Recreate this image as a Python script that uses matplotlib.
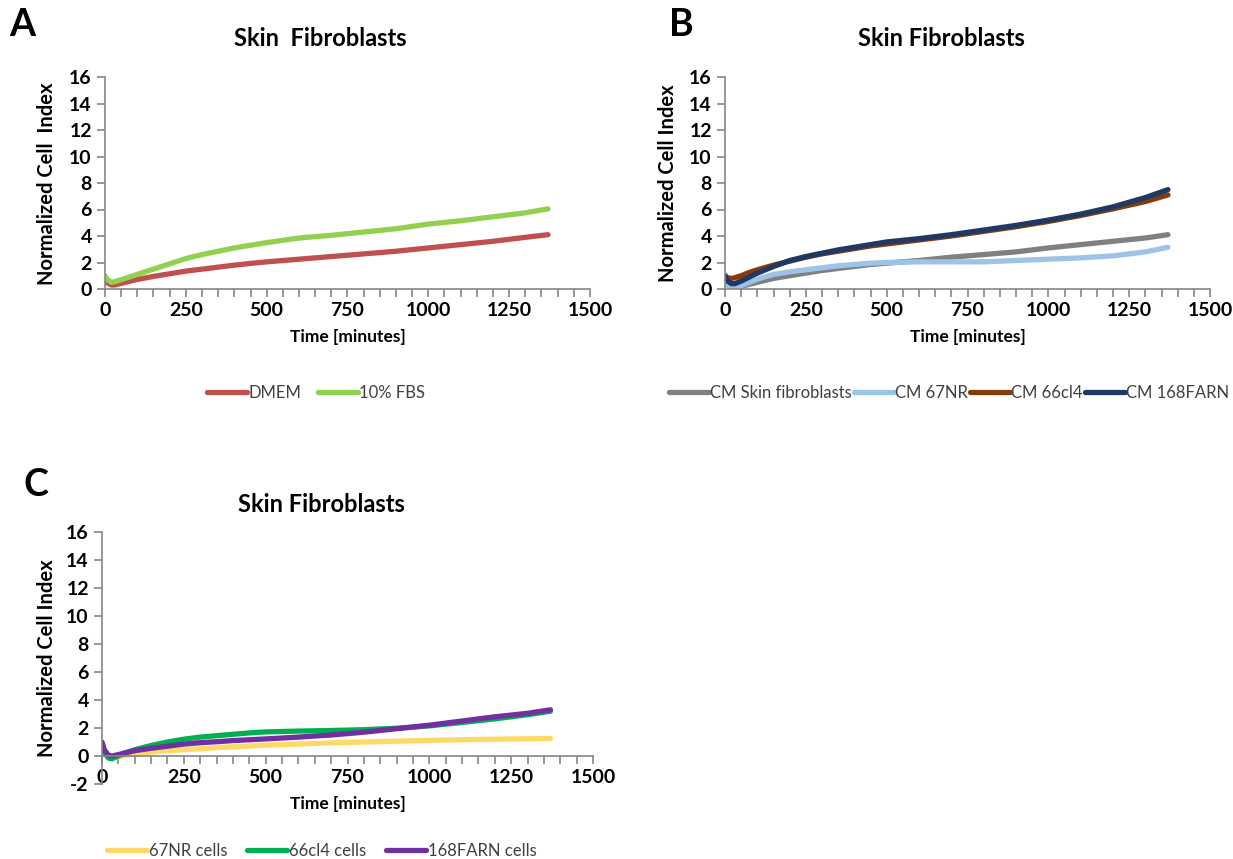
import matplotlib.pyplot as plt
from matplotlib.ticker import MultipleLocator

plt.rcParams['font.family'] = ['Lato', 'DejaVu Sans']
plt.rcParams['axes.unicode_minus'] = False

# time points (minutes), shared by all series
time_min = [0, 8, 20, 30, 50, 75, 100, 150, 200, 250, 300, 350, 400, 450,
            500, 600, 700, 800, 900, 1000, 1100, 1200, 1300, 1370]

# panel A
dmem = [0.6, 0.45, 0.3, 0.3, 0.42, 0.58, 0.72, 0.95, 1.15, 1.35, 1.5, 1.65, 1.8, 1.93,
        2.05, 2.25, 2.45, 2.65, 2.85, 3.1, 3.35, 3.6, 3.9, 4.1]
fbs = [1.0, 0.7, 0.5, 0.55, 0.7, 0.9, 1.1, 1.5, 1.9, 2.3, 2.6, 2.85, 3.1, 3.3,
       3.5, 3.85, 4.05, 4.3, 4.55, 4.9, 5.15, 5.45, 5.75, 6.05]

# panel B
cm_skin = [0.6, 0.3, 0.15, 0.1, 0.2, 0.35, 0.5, 0.8, 1.0, 1.2, 1.4, 1.55, 1.7, 1.85,
           1.95, 2.15, 2.4, 2.6, 2.8, 3.1, 3.35, 3.6, 3.85, 4.1]
cm_67nr = [0.6, 0.3, 0.15, 0.1, 0.25, 0.5, 0.75, 1.1, 1.3, 1.45, 1.6, 1.75, 1.85, 1.95,
           2.0, 2.05, 2.05, 2.05, 2.15, 2.25, 2.35, 2.5, 2.8, 3.15]
cm_66cl4 = [1.0, 0.85, 0.8, 0.85, 1.0, 1.25, 1.45, 1.8, 2.1, 2.4, 2.65, 2.85, 3.05, 3.25,
            3.4, 3.7, 4.0, 4.35, 4.7, 5.1, 5.55, 6.05, 6.6, 7.1]
cm_168farn = [1.0, 0.6, 0.4, 0.4, 0.6, 0.9, 1.2, 1.7, 2.15, 2.45, 2.7, 2.95, 3.15, 3.35,
              3.55, 3.8, 4.1, 4.45, 4.8, 5.2, 5.65, 6.2, 6.9, 7.5]

# panel C
cells_67nr = [0.8, 0.2, -0.05, -0.1, -0.05, 0.05, 0.15, 0.28, 0.38, 0.45, 0.52, 0.6, 0.66, 0.72,
              0.78, 0.86, 0.94, 1.0, 1.06, 1.12, 1.16, 1.2, 1.23, 1.25]
cells_66cl4 = [0.9, 0.2, -0.15, -0.2, 0.0, 0.25, 0.45, 0.75, 1.0, 1.2, 1.35, 1.45, 1.55, 1.65,
               1.72, 1.78, 1.82, 1.88, 1.98, 2.15, 2.4, 2.65, 2.95, 3.2]
cells_168farn = [1.0, 0.4, 0.05, 0.0, 0.1, 0.25, 0.38, 0.55, 0.7, 0.85, 0.95, 1.02, 1.1, 1.16,
                 1.22, 1.35, 1.5, 1.7, 1.95, 2.2, 2.5, 2.8, 3.05, 3.3]

W, H = 1233, 859
fig = plt.figure(figsize=(W / 100, H / 100), dpi=100)
axis_grey = '#868686'


def px(x, y):
    return x / W, 1 - y / H


def style_axes(ax, ymin):
    ax.set_xlim(0, 1500)
    ax.set_ylim(ymin, 16)
    ax.xaxis.set_major_locator(MultipleLocator(250))
    ax.xaxis.set_minor_locator(MultipleLocator(50))
    ax.yaxis.set_major_locator(MultipleLocator(2))
    for s in ['top', 'right']:
        ax.spines[s].set_visible(False)
    for s in ['left', 'bottom']:
        ax.spines[s].set_color(axis_grey)
        ax.spines[s].set_linewidth(1.2)
    ax.spines['bottom'].set_position(('data', 0))
    ax.tick_params(which='both', direction='out', color=axis_grey, width=1.2, length=6)
    ax.tick_params(labelsize=14)
    for lab in ax.get_xticklabels() + ax.get_yticklabels():
        lab.set_fontweight('bold')
    ax.set_xlabel('Time [minutes]', fontsize=12.5, fontweight='bold', labelpad=7)


def draw(ax, series):
    handles = []
    for vals, col, name in series:
        h, = ax.plot(time_min, vals, color=col, lw=3.8, solid_capstyle='round', label=name)
        handles.append(h)
    return handles


def legend(handles, x, y, ncol, spacing):
    fig.legend(handles=handles, loc='center', bbox_to_anchor=px(x, y), ncol=ncol,
               frameon=False, fontsize=12, handlelength=2.4, columnspacing=spacing,
               handletextpad=0.1, labelcolor='#404040')


# ---- A ----
axA = fig.add_axes([105 / W, 1 - 289 / H, 485 / W, 212 / H])
hA = draw(axA, [(dmem, '#C0504D', 'DMEM'), (fbs, '#92D050', '10% FBS')])
style_axes(axA, 0)
fig.text(*px(320, 38), 'Skin  Fibroblasts', ha='center', va='center', fontsize=17, fontweight='bold')
fig.text(*px(22, 25), 'A', ha='center', va='center', fontsize=27, fontweight='bold')
fig.text(*px(47, 184), 'Normalized Cell  Index', rotation=90, ha='center', va='center',
         fontsize=14.5, fontweight='bold')
legend(hA, 316, 393, 2, 1.0)

# ---- B ----
axB = fig.add_axes([725 / W, 1 - 289 / H, 485 / W, 212 / H])
hB = draw(axB, [(cm_skin, '#808080', 'CM Skin fibroblasts'), (cm_67nr, '#9DC3E6', 'CM 67NR'),
                (cm_66cl4, '#843C0C', 'CM 66cl4'), (cm_168farn, '#1F3864', 'CM 168FARN')])
style_axes(axB, 0)
fig.text(*px(941, 38), 'Skin Fibroblasts', ha='center', va='center', fontsize=17, fontweight='bold')
fig.text(*px(681, 25), 'B', ha='center', va='center', fontsize=27, fontweight='bold')
fig.text(*px(668, 183), 'Normalized Cell Index', rotation=90, ha='center', va='center',
         fontsize=14.5, fontweight='bold')
legend(hB, 949, 393, 4, 0.1)

# ---- C ----
axC = fig.add_axes([102 / W, 1 - 784 / H, 491 / W, 252 / H])
hC = draw(axC, [(cells_67nr, '#FFD966', '67NR cells'), (cells_66cl4, '#00B050', '66cl4 cells'),
                (cells_168farn, '#7030A0', '168FARN cells')])
style_axes(axC, -2)
fig.text(*px(321, 505), 'Skin Fibroblasts', ha='center', va='center', fontsize=17, fontweight='bold')
fig.text(*px(36, 485), 'C', ha='center', va='center', fontsize=27, fontweight='bold')
fig.text(*px(47, 658), 'Normalized Cell Index', rotation=90, ha='center', va='center',
         fontsize=14.5, fontweight='bold')
legend(hC, 322, 851, 3, 1.2)

fig.savefig('out.png', dpi=100)
